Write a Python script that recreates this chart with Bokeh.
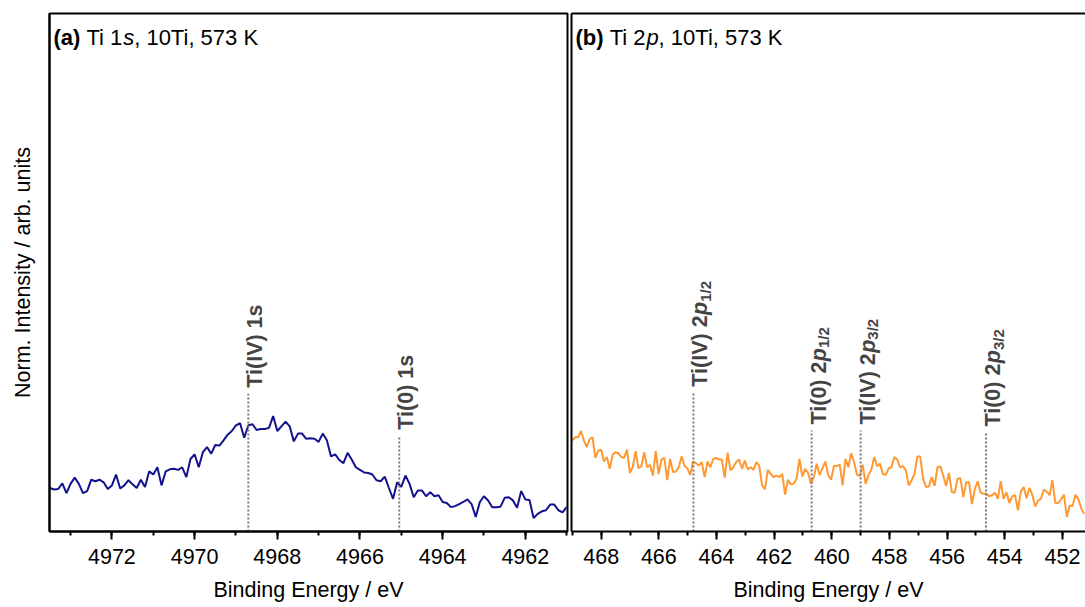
import math
import numpy as np
from bokeh.plotting import figure
from bokeh.layouts import row
from bokeh.models import (Range1d, SingleIntervalTicker, FixedTicker, LinearAxis,
                          Label, ColumnDataSource)
from bokeh.core.properties import value
from bokeh.embed import file_html
from bokeh.resources import INLINE

FONT = "Liberation Sans"

# ---------------- data ----------------
# Ti 1s region (hard X-ray), binding energy grid and normalised intensity
ti1s_energy_first, ti1s_energy_last = 4973.5, 4961.0
ti1s_intensity = [
    0.084, 0.081, 0.082, 0.093, 0.074, 0.092, 0.104, 0.092, 0.074, 0.078,
    0.100, 0.097, 0.100, 0.095, 0.082, 0.089, 0.110, 0.083, 0.089, 0.099,
    0.091, 0.084, 0.100, 0.086, 0.116, 0.110, 0.124, 0.089, 0.116, 0.120,
    0.121, 0.119, 0.124, 0.105, 0.140, 0.149, 0.124, 0.153, 0.163, 0.150,
    0.167, 0.166, 0.176, 0.187, 0.194, 0.205, 0.209, 0.181, 0.205, 0.207,
    0.196, 0.198, 0.198, 0.200, 0.223, 0.194, 0.203, 0.212, 0.203, 0.174,
    0.189, 0.189, 0.179, 0.180, 0.179, 0.173, 0.189, 0.176, 0.145, 0.149,
    0.138, 0.132, 0.152, 0.139, 0.124, 0.119, 0.114, 0.113, 0.110, 0.099,
    0.097, 0.106, 0.084, 0.063, 0.095, 0.086, 0.108, 0.092, 0.066, 0.079,
    0.079, 0.068, 0.076, 0.068, 0.070, 0.057, 0.055, 0.047, 0.049, 0.053,
    0.057, 0.062, 0.053, 0.028, 0.057, 0.068, 0.060, 0.047, 0.047, 0.048,
    0.065, 0.066, 0.060, 0.046, 0.078, 0.062, 0.061, 0.026, 0.034, 0.039,
    0.041, 0.052, 0.052, 0.041, 0.037, 0.047,
]

# Ti 2p region
ti2p_energy_first, ti2p_energy_last = 469.0, 451.25
ti2p_intensity = [
    0.176, 0.182, 0.182, 0.194, 0.176, 0.163, 0.178, 0.182, 0.142, 0.156,
    0.158, 0.135, 0.144, 0.121, 0.148, 0.153, 0.151, 0.144, 0.142, 0.158,
    0.113, 0.124, 0.155, 0.122, 0.126, 0.153, 0.124, 0.129, 0.108, 0.155,
    0.111, 0.139, 0.142, 0.099, 0.140, 0.115, 0.116, 0.124, 0.145, 0.127,
    0.122, 0.109, 0.135, 0.132, 0.127, 0.134, 0.105, 0.135, 0.124, 0.140,
    0.142, 0.139, 0.139, 0.104, 0.152, 0.118, 0.124, 0.134, 0.139, 0.121,
    0.137, 0.120, 0.124, 0.119, 0.134, 0.127, 0.089, 0.082, 0.119, 0.111,
    0.105, 0.108, 0.105, 0.111, 0.071, 0.100, 0.091, 0.092, 0.102, 0.140,
    0.106, 0.121, 0.113, 0.092, 0.105, 0.131, 0.109, 0.122, 0.135, 0.109,
    0.100, 0.127, 0.126, 0.129, 0.089, 0.140, 0.124, 0.151, 0.134, 0.110,
    0.107, 0.129, 0.092, 0.109, 0.119, 0.144, 0.126, 0.131, 0.111, 0.109,
    0.122, 0.124, 0.144, 0.139, 0.124, 0.126, 0.118, 0.089, 0.099, 0.111,
    0.145, 0.145, 0.102, 0.086, 0.087, 0.105, 0.088, 0.124, 0.126, 0.108,
    0.088, 0.113, 0.076, 0.075, 0.102, 0.103, 0.066, 0.095, 0.095, 0.053,
    0.082, 0.097, 0.075, 0.073, 0.073, 0.068, 0.070, 0.075, 0.063, 0.097,
    0.063, 0.076, 0.055, 0.068, 0.070, 0.041, 0.077, 0.086, 0.064, 0.084,
    0.071, 0.048, 0.060, 0.063, 0.081, 0.077, 0.070, 0.099, 0.055, 0.055,
    0.062, 0.071, 0.028, 0.050, 0.049, 0.071, 0.063, 0.045, 0.034,
]

# reference binding energies
ti1s_refs = [4968.7, 4965.05]
ti1s_ref_names = ["Ti(IV) 1s", "Ti(0) 1s"]
ti1s_ref_tops = [0.266, 0.185]

ti2p_refs = [464.8, 460.7, 459.0, 454.65]
ti2p_ref_species = ["Ti(IV)", "Ti(0)", "Ti(IV)", "Ti(0)"]
ti2p_ref_levels = ["1/2", "1/2", "3/2", "3/2"]
ti2p_ref_tops = [0.268, 0.195, 0.195, 0.191]

x_ticks_interval = 2

# ---------------- styling ----------------
NAVY = "#12128c"
ORANGE = "#ff9933"
REF_GREY = "#7a7a7a"
LABEL_GREY = "#444444"
TICK_SIZE = "21.5px"
TITLE_SIZE = 22
REF_SIZE = 21.5
SUB_SIZE = 15

# advance widths (per 1000 em) of Liberation Sans, used to chain text pieces
_W_REG = {" ": 278, "(": 333, ")": 333, "a": 556, "b": 556, "T": 611, "i": 222,
          "K": 667, ",": 278, "s": 500, "p": 556, "/": 278, "I": 278, "V": 667}
_W_BOLD = {" ": 278, "(": 333, ")": 333, "a": 556, "b": 611, "T": 611, "i": 278,
           "K": 722, ",": 278, "s": 556, "p": 611, "/": 278, "I": 278, "V": 667}


def text_width(s, size, bold=False):
    table = _W_BOLD if bold else _W_REG
    return sum(table.get(ch, 556) for ch in s) * size / 1000.0


def style_bottom_axis(ax):
    ax.ticker = SingleIntervalTicker(interval=x_ticks_interval, num_minor_ticks=2)
    ax.axis_line_width = 2
    ax.axis_line_color = "black"
    ax.major_tick_line_width = 2
    ax.major_tick_line_color = "black"
    ax.major_tick_out = 8
    ax.major_tick_in = 0
    ax.minor_tick_line_width = 2
    ax.minor_tick_line_color = "black"
    ax.minor_tick_out = 4
    ax.minor_tick_in = 0
    ax.major_label_text_font = FONT
    ax.major_label_text_font_size = TICK_SIZE
    ax.major_label_text_color = "black"
    ax.major_label_standoff = 9
    ax.axis_label = "Binding Energy / eV"
    ax.axis_label_text_font = FONT
    ax.axis_label_text_font_size = TICK_SIZE
    ax.axis_label_text_font_style = "normal"
    ax.axis_label_text_color = "black"
    ax.axis_label_standoff = 11


def style_bare_axis(ax):
    ax.ticker = FixedTicker(ticks=[])
    ax.axis_line_width = 2
    ax.axis_line_color = "black"
    ax.major_tick_out = 0
    ax.major_tick_in = 0
    ax.minor_tick_out = 0
    ax.minor_tick_in = 0
    ax.major_label_standoff = 0


def add_title(p, pieces, frame_h):
    """Chain differently styled pieces on one baseline; SVG drops leading
    blanks, so they are turned into an x advance instead."""
    x = 4.0
    for txt, style in pieces:
        bold = style == "bold"
        stripped = txt.lstrip(" ")
        x += text_width(txt[:len(txt) - len(stripped)], TITLE_SIZE, bold)
        p.add_layout(Label(x=x, y=frame_h - 24, x_units="screen", y_units="screen",
                           text=stripped, text_font=FONT,
                           text_font_size=f"{TITLE_SIZE}px",
                           text_font_style=style, text_color="black",
                           text_baseline="alphabetic", text_align="left"))
        x += text_width(stripped, TITLE_SIZE, bold)


FIG_H = 607
TOP, BOTTOM = 13, 76
FRAME_H = FIG_H - TOP - BOTTOM

# ---------------- panel (a): Ti 1s ----------------
e1 = np.linspace(ti1s_energy_first, ti1s_energy_last, len(ti1s_intensity))
p1 = figure(width=569, height=FIG_H, x_range=Range1d(4973.51, 4960.98),
            y_range=Range1d(0, 1), output_backend="svg", toolbar_location=None,
            min_border_left=49, min_border_right=2, min_border_top=TOP,
            min_border_bottom=BOTTOM)
p1.grid.visible = False
p1.outline_line_color = "black"
p1.outline_line_width = 2
p1.outline_line_alpha = 1
p1.background_fill_color = "white"
p1.border_fill_color = "white"
style_bottom_axis(p1.xaxis[0])
style_bare_axis(p1.yaxis[0])
p1.yaxis[0].axis_label = "Norm. Intensity / arb. units"
p1.yaxis[0].axis_label_text_font = FONT
p1.yaxis[0].axis_label_text_font_size = TICK_SIZE
p1.yaxis[0].axis_label_text_font_style = "normal"
p1.yaxis[0].axis_label_text_color = "black"
p1.yaxis[0].axis_label_standoff = 15

p1.line(e1, ti1s_intensity, line_color=NAVY, line_width=2)
p1.segment(x0=ti1s_refs, y0=[0] * len(ti1s_refs), x1=ti1s_refs, y1=ti1s_ref_tops,
           line_color=REF_GREY, line_width=2, line_dash="2 2")
p1.text(x=ti1s_refs, y=ti1s_ref_tops, text=ti1s_ref_names, angle=math.pi / 2,
        text_align="left", text_baseline="alphabetic", x_offset=7, y_offset=-6,
        text_font=value(FONT), text_font_style="bold",
        text_font_size=f"{REF_SIZE}px", text_color=LABEL_GREY)
add_title(p1, [("(a)", "bold"), (" Ti 1", "normal"), ("s", "italic"),
               (", 10Ti, 573 K", "normal")], FRAME_H)

# ---------------- panel (b): Ti 2p ----------------
e2 = np.linspace(ti2p_energy_first, ti2p_energy_last, len(ti2p_intensity))
p2 = figure(width=516, height=FIG_H, x_range=Range1d(469.03, 451.2),
            y_range=Range1d(0, 1), output_backend="svg", toolbar_location=None,
            min_border_left=2, min_border_right=0, min_border_top=TOP,
            min_border_bottom=BOTTOM)
p2.grid.visible = False
p2.outline_line_color = None
p2.background_fill_color = "white"
p2.border_fill_color = "white"
style_bottom_axis(p2.xaxis[0])
style_bare_axis(p2.yaxis[0])
top_axis = LinearAxis()
style_bare_axis(top_axis)
p2.add_layout(top_axis, "above")

p2.line(e2, ti2p_intensity, line_color=ORANGE, line_width=2)
p2.segment(x0=ti2p_refs, y0=[0] * len(ti2p_refs), x1=ti2p_refs, y1=ti2p_ref_tops,
           line_color=REF_GREY, line_width=2, line_dash="2 2")

head = [f"{s} 2" for s in ti2p_ref_species]
head_w = [text_width(h, REF_SIZE, bold=True) for h in head]
p_w = text_width("p", REF_SIZE, bold=True)
ref_src = ColumnDataSource(dict(
    x=ti2p_refs, y=ti2p_ref_tops, head=head, orb=["p"] * len(head),
    level=ti2p_ref_levels,
    off_head=[-6.0] * len(head),
    off_orb=[-6.0 - w for w in head_w],
    off_level=[-6.0 - w - p_w for w in head_w],
))
common = dict(angle=math.pi / 2, text_align="left", text_baseline="alphabetic",
              text_font=value(FONT), text_color=LABEL_GREY)
p2.text(x="x", y="y", text="head", source=ref_src, x_offset=7, y_offset="off_head",
        text_font_style="bold", text_font_size=f"{REF_SIZE}px", **common)
p2.text(x="x", y="y", text="orb", source=ref_src, x_offset=7, y_offset="off_orb",
        text_font_style="bold italic", text_font_size=f"{REF_SIZE}px", **common)
p2.text(x="x", y="y", text="level", source=ref_src, x_offset=12, y_offset="off_level",
        text_font_style="bold", text_font_size=f"{SUB_SIZE}px", **common)
add_title(p2, [("(b)", "bold"), (" Ti 2", "normal"), ("p", "italic"),
               (", 10Ti, 573 K", "normal")], FRAME_H)

layout = row(p1, p2, spacing=0)
open("out.html", "w").write(file_html(layout, INLINE))
